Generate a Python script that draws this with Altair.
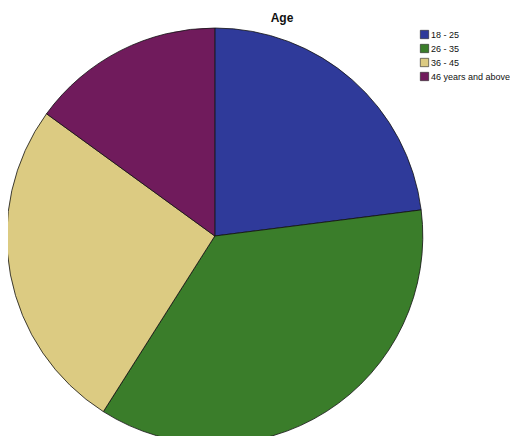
import altair as alt
import pandas as pd

categories = ["18 - 25", "26 - 35", "36 - 45", "46 years and above"]
values = [23, 36, 26, 15]
colors = ["#2F3A9A", "#3A7D2A", "#DCCB82", "#701B5C"]
title_text = ["Age"]

df = pd.DataFrame({"category": categories, "value": values, "order": list(range(len(categories)))})
tdf = pd.DataFrame({"t": title_text})

arc = alt.Chart(df).mark_arc(outerRadius=208, stroke="#111111", strokeWidth=0.8).encode(
    theta=alt.Theta("value:Q", stack=True),
    color=alt.Color(
        "category:N",
        scale=alt.Scale(domain=categories, range=colors),
        sort=categories,
        legend=alt.Legend(
            title=None, orient="none", legendX=412, legendY=22, padding=0,
            symbolType="square", symbolSize=70, symbolStrokeColor="#222222",
            symbolStrokeWidth=0.6, symbolOpacity=1,
            labelFont="Liberation Sans", labelFontSize=9, labelColor="#111111",
            rowPadding=3, labelOffset=2, labelLimit=200,
        ),
    ),
    order=alt.Order("order:Q"),
    x=alt.value(206.8),
    y=alt.value(228),
)

title = alt.Chart(tdf).mark_text(
    font="Liberation Sans", fontSize=12, fontWeight="bold", color="#111111"
).encode(text="t:N", x=alt.value(274), y=alt.value(10))

chart = alt.layer(arc, title).properties(
    width=502, height=428, autosize=alt.AutoSizeParams(type="none"), padding=0
).configure_view(stroke=None)

chart.save("out.html", embed_options={"renderer": "svg", "actions": False})
